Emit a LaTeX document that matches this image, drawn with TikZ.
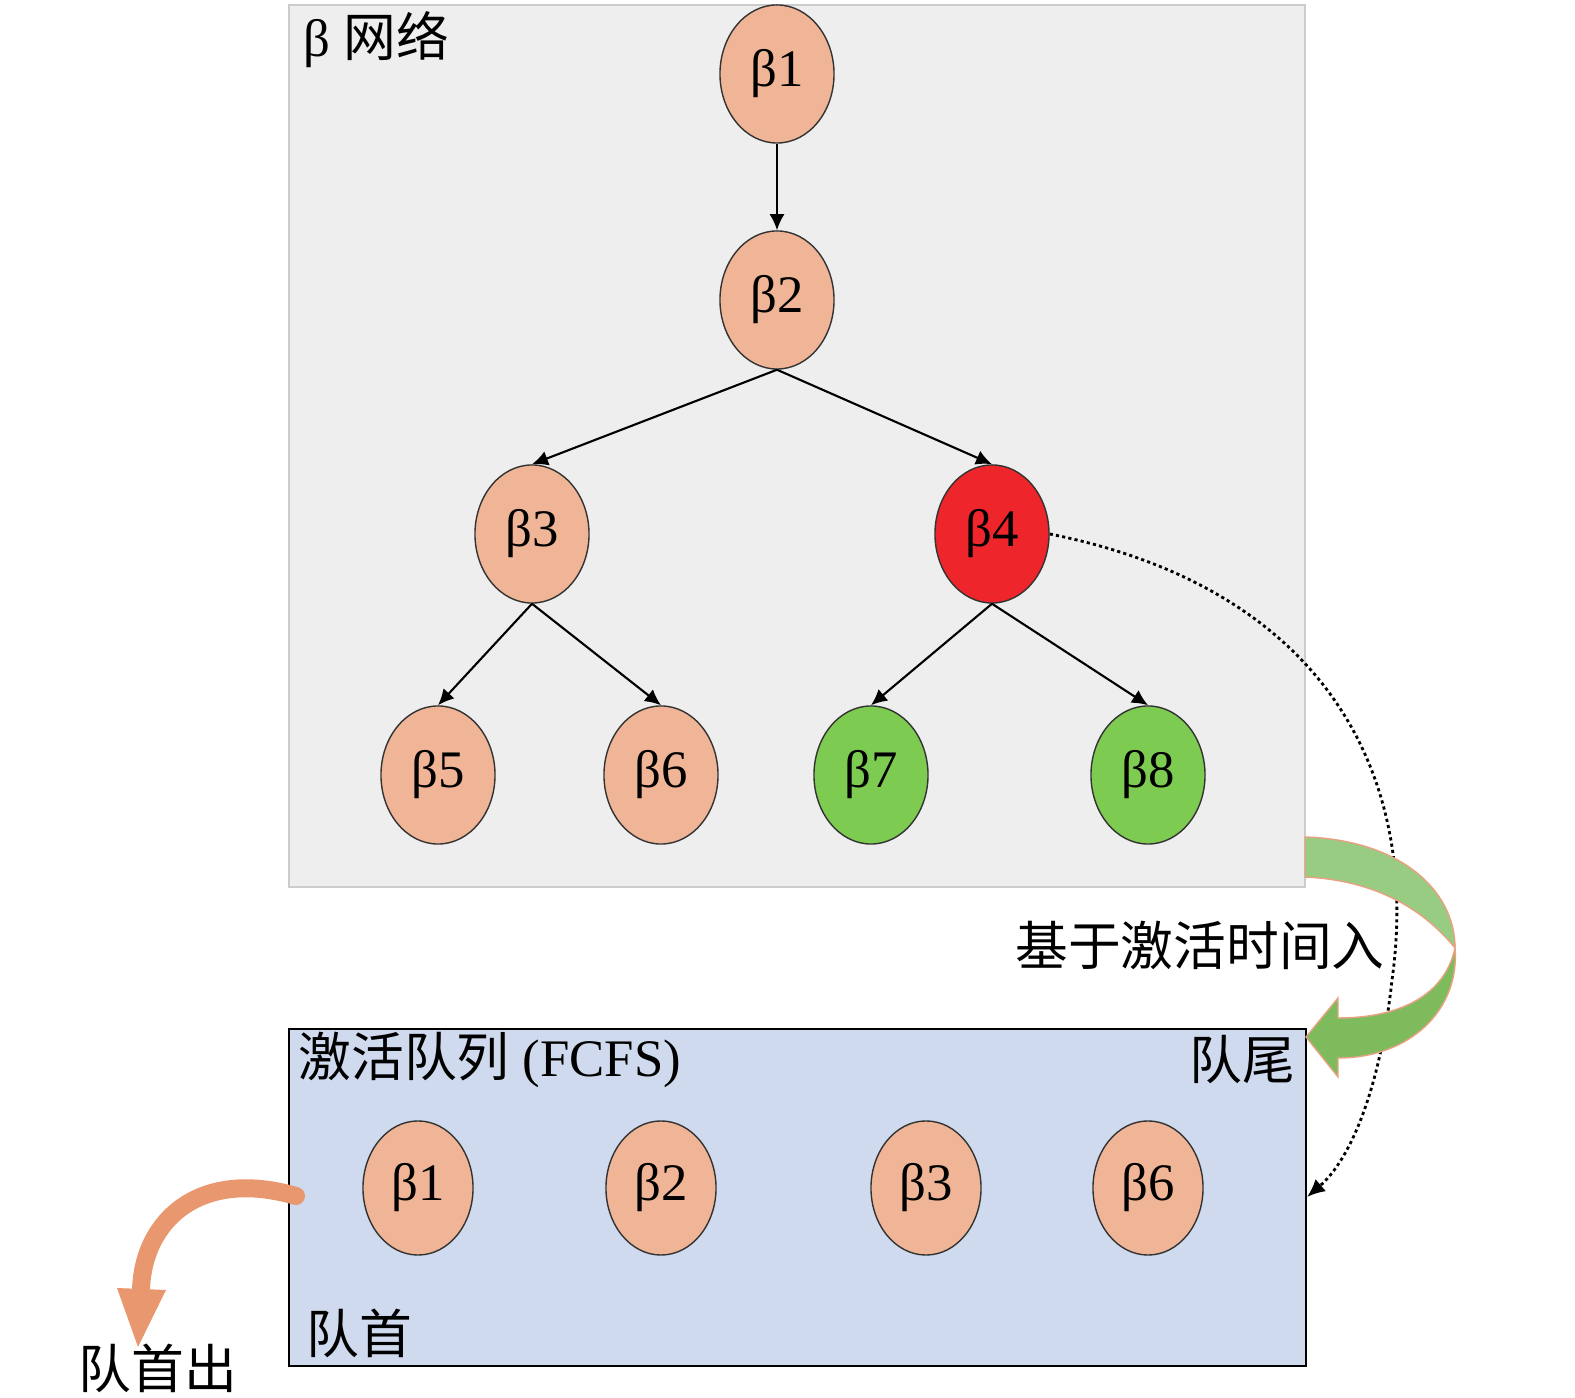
\documentclass[tikz,border=0pt]{standalone}
\usepackage{fontspec}
\setmainfont{Liberation Serif}
\newfontfamily\cjk{Noto Sans CJK SC}
\usetikzlibrary{positioning,shapes.geometric,arrows.meta}

\definecolor{netgray}{HTML}{EEEEEE}
\definecolor{quebg}{HTML}{D0DAEE}
\definecolor{peach}{HTML}{F0B597}
\definecolor{hotred}{HTML}{EE252B}
\definecolor{leaf}{HTML}{7DCB50}
\definecolor{lgreen}{HTML}{98CC82}
\definecolor{dgreen}{HTML}{7DBB5C}
\definecolor{rim}{HTML}{E8A282}
\definecolor{outarr}{HTML}{E8976F}

\tikzset{
  beta/.style={ellipse, draw=black!80, line width=0.4pt, fill=peach,
    minimum width=1.14cm, minimum height=1.38cm, inner sep=0pt,
    font=\fontsize{15}{18}\selectfont},
  qbeta/.style={beta, minimum width=1.1cm, minimum height=1.34cm},
  link/.style={line width=0.6pt, -{Latex[length=1.6mm,width=1.5mm]}},
  lbl/.style={font=\fontsize{15}{18}\selectfont, inner sep=0pt}
}

\begin{document}
\begin{tikzpicture}[x=0.01cm, y=-0.01cm]
\useasboundingbox (0,0) rectangle (1575,1398);

\def\ya{74}
\def\yb{300}
\def\yc{534}
\def\yd{775}
\def\ye{1188}

% boxes
\draw[draw=black!20, fill=netgray, line width=0.4pt] (289,5) rectangle (1305,887);
\draw[draw=black, fill=quebg, line width=0.7pt] (289,1029) rectangle (1306,1366);

% tree
\node[beta] (b1) at (777,\ya) {β1};
\node[beta] (b2) at (777,\yb) {β2};
\node[beta] (b3) at (532,\yc) {β3};
\node[beta, fill=hotred] (b4) at (992,\yc) {β4};
\node[beta] (b5) at (438,\yd) {β5};
\node[beta] (b6) at (661,\yd) {β6};
\node[beta, fill=leaf] (b7) at (871,\yd) {β7};
\node[beta, fill=leaf] (b8) at (1148,\yd) {β8};

\draw[link] (b1.south) -- (b2.north);
\draw[link] (b2.south) -- (b3.north);
\draw[link] (b2.south) -- (b4.north);
\draw[link] (b3.south) -- (b5.north);
\draw[link] (b3.south) -- (b6.north);
\draw[link] (b4.south) -- (b7.north);
\draw[link] (b4.south) -- (b8.north);

% queue
\node[qbeta] (q1) at (418,\ye) {β1};
\node[qbeta] (q2) at (661,\ye) {β2};
\node[qbeta] (q3) at (926,\ye) {β3};
\node[qbeta] (q6) at (1148,\ye) {β6};

% labels
\node[lbl, anchor=west] (net) at (303,40) {β {\cjk 网络}};
\node[lbl, anchor=west] (que) at (298,1060) {{\cjk 激活队列} (FCFS)};
\node[lbl, anchor=east] (tail) at (1296,1060) {\cjk 队尾};
\node[lbl, anchor=west] (head) at (306,1333) {\cjk 队首};
\node[lbl] (deq) at (158,1368) {\cjk 队首出};
\node[lbl] (enq) at (1200,945) {\cjk 基于激活时间入};

% dotted insert path
\coordinate (qin) at (1307,1197);
\draw[dash pattern=on 0.9pt off 0.9pt, line width=0.8pt,
      -{Latex[length=1.8mm,width=1.6mm]}]
  (b4.east) .. controls (1330,590) and (1420,780) .. (1392,980)
  .. controls (1380,1090) and (1350,1160) .. (qin);

% green ribbon arrow
\filldraw[fill=lgreen, draw=rim, line width=0.4pt]
  (1305,837) .. controls (1400,840) and (1455,890) .. (1455,948)
  .. controls (1420,905) and (1370,880) .. (1305,877) -- cycle;
\filldraw[fill=dgreen, draw=rim, line width=0.4pt]
  (1455,948) .. controls (1460,1010) and (1410,1058) .. (1338,1058)
  -- (1338,1077) -- (1306,1037) -- (1338,998) -- (1338,1018)
  .. controls (1400,1018) and (1445,995) .. (1455,948) -- cycle;

% orange out arrow
\coordinate (qout) at (296,1196);
\coordinate (bend) at (141,1290);
\draw[outarr, line width=0.18cm, line cap=round]
  (qout) .. controls (200,1168) and (143,1220) .. (bend);
\fill[outarr] (117,1288) -- (166,1290) -- (138,1347) -- cycle;

\end{tikzpicture}
\end{document}
